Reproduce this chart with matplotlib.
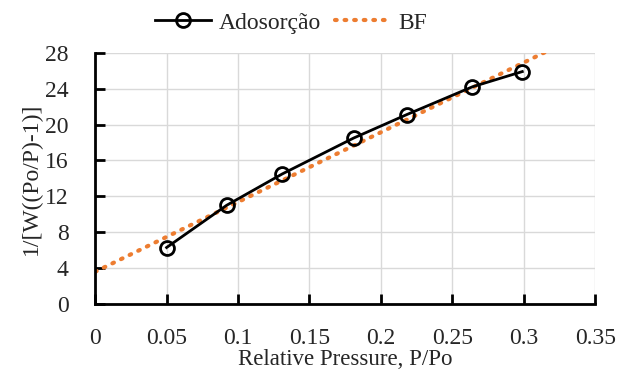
import numpy as np
import matplotlib
matplotlib.use('Agg')
import matplotlib.pyplot as plt

# data
pressure = [0.05, 0.092, 0.131, 0.181, 0.218, 0.264, 0.299]
bet_values = [6.3, 11.0, 14.5, 18.5, 21.1, 24.2, 25.9]
fit_x = [0.0, 0.318]
fit_y = [3.6, 28.3]

x_ticks = [0, 0.05, 0.1, 0.15, 0.2, 0.25, 0.3, 0.35]
x_tick_labels = ['0', '0.05', '0.1', '0.15', '0.2', '0.25', '0.3', '0.35']
y_ticks = [0, 4, 8, 12, 16, 20, 24, 28]

serif = ['Liberation Serif', 'DejaVu Serif']
txt_color = '#262626'

fig = plt.figure(figsize=(6.18, 3.74), dpi=100)
ax = fig.add_axes([0.154, 0.187, 0.809, 0.672])

ax.plot(pressure, bet_values, color='black', lw=2, marker='o', ms=10,
        mfc='none', mec='black', mew=2, label='Adosorção', zorder=3)
ax.plot(fit_x, fit_y, color='#ED7D31', lw=3, ls=(0, (0.4, 1.9)),
        dash_capstyle='round', label='BF', zorder=2)

ax.set_xlim(0, 0.35)
ax.set_ylim(0, 28)
ax.set_xticks(x_ticks)
ax.set_xticklabels(x_tick_labels)
ax.set_yticks(y_ticks)
ax.grid(True, color='#d9d9d9', lw=1)
ax.set_axisbelow(True)

for s in ['top', 'right']:
    ax.spines[s].set_visible(False)
for s in ['left', 'bottom']:
    ax.spines[s].set_linewidth(2)
ax.tick_params(direction='in', length=7, width=2, labelcolor=txt_color)
ax.tick_params(axis='x', pad=17)
ax.tick_params(axis='y', pad=19)
for lab in ax.get_xticklabels() + ax.get_yticklabels():
    lab.set_family(serif)
    lab.set_fontsize(17)

ax.set_xlabel('Relative Pressure, P/Po', family=serif, fontsize=16.5,
              color=txt_color, labelpad=0)
ax.set_ylabel('1/[W((Po/P)-1)]', family=serif, fontsize=17,
              color=txt_color, labelpad=2)

ax.legend(loc='lower center', bbox_to_anchor=(0.392, 1.02), ncol=2, frameon=False,
          prop={'family': serif, 'size': 17}, handlelength=2.4, columnspacing=0.6,
          handletextpad=0.3, borderaxespad=0.2, labelcolor=txt_color)

plt.savefig('out.png', dpi=100)
